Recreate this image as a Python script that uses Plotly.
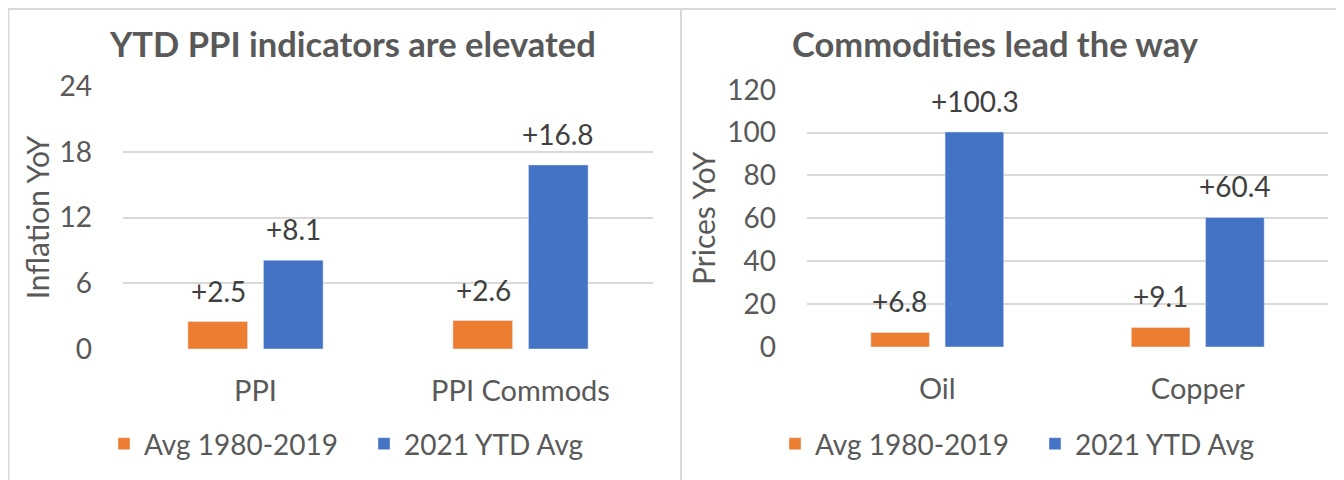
import plotly.graph_objects as go

W, H = 1344, 480

# ---- data ----
left_title = "YTD PPI indicators are elevated"
right_title = "Commodities lead the way"
left_cats = ["PPI", "PPI Commods"]
right_cats = ["Oil", "Copper"]
series_names = ["Avg 1980-2019", "2021 YTD Avg"]
left_avg = [2.5, 2.6]
left_ytd = [8.1, 16.8]
right_avg = [6.8, 9.1]
right_ytd = [100.3, 60.4]
left_ticks = [0, 6, 12, 18, 24]
right_ticks = [0, 20, 40, 60, 80, 100, 120]

ORANGE = "#ED7D31"
BLUE = "#4472C4"
GRID = "#D9D9D9"
TXT = "#595959"
LBL = "#404040"
FONT = "Lato, 'Open Sans', sans-serif"

# the page places the figure 8px in from the top-left corner
OX, OY = 8, 8

def px(x):
    return (x - OX) / W

def py(y):
    return 1 - (y - OY) / H

fig = go.Figure()

fig.add_trace(go.Bar(x=left_cats, y=left_avg, name=series_names[0], marker_color=ORANGE,
                     xaxis="x", yaxis="y", legend="legend", hoverinfo="skip"))
fig.add_trace(go.Bar(x=left_cats, y=left_ytd, name=series_names[1], marker_color=BLUE,
                     xaxis="x", yaxis="y", legend="legend", hoverinfo="skip"))
fig.add_trace(go.Bar(x=right_cats, y=right_avg, name=series_names[0], marker_color=ORANGE,
                     xaxis="x2", yaxis="y2", legend="legend2", hoverinfo="skip"))
fig.add_trace(go.Bar(x=right_cats, y=right_ytd, name=series_names[1], marker_color=BLUE,
                     xaxis="x2", yaxis="y2", legend="legend2", hoverinfo="skip"))

annotations = []

def add_labels(cats, vals, xref, yref, shift):
    for c, v in zip(cats, vals):
        annotations.append(dict(x=c, y=v, xref=xref, yref=yref, text=f"+{v:.1f}",
                                showarrow=False, xshift=shift, xanchor="center",
                                yanchor="bottom", yshift=12,
                                font=dict(family=FONT, size=28, color=LBL)))

add_labels(left_cats, left_avg, "x", "y", -37.5)
add_labels(left_cats, left_ytd, "x", "y", 37.5)
add_labels(right_cats, right_avg, "x2", "y2", -37.5)
add_labels(right_cats, right_ytd, "x2", "y2", 37.5)

annotations.append(dict(x=px(352), y=py(44), xref="paper", yref="paper", text=f"<b>{left_title}</b>",
                        showarrow=False, xanchor="center", yanchor="middle",
                        font=dict(family=FONT, size=34.5, color=TXT)))
annotations.append(dict(x=px(995), y=py(44), xref="paper", yref="paper", text=f"<b>{right_title}</b>",
                        showarrow=False, xanchor="center", yanchor="middle",
                        font=dict(family=FONT, size=34.5, color=TXT)))

tickfont = dict(family=FONT, size=28, color=TXT)
catfont = dict(family=FONT, size=29, color=TXT)
legfont = dict(family=FONT, size=28, color=TXT)

fig.update_layout(
    width=W, height=H,
    margin=dict(l=0, r=0, t=0, b=0, autoexpand=False),
    paper_bgcolor="white", plot_bgcolor="white",
    barmode="group", bargap=0.43, bargroupgap=0.21,
    font=dict(family=FONT, color=TXT),
    xaxis=dict(domain=[px(123), px(653)], anchor="y", showgrid=False, showline=False, zeroline=False,
               ticks="", tickfont=catfont, ticklabelstandoff=22, automargin=False),
    yaxis=dict(domain=[py(349), py(86)], anchor="x", range=[0, 24], tickvals=left_ticks,
               showgrid=True, gridcolor=GRID, gridwidth=1.5, showline=False, zeroline=False,
               ticks="", tickfont=tickfont, ticklabelstandoff=30, automargin=False,
               title=dict(text="Inflation YoY", font=dict(family=FONT, size=30, color=TXT), standoff=1)),
    xaxis2=dict(domain=[px(807), px(1328)], anchor="y2", showgrid=False, showline=False, zeroline=False,
                ticks="", tickfont=catfont, ticklabelstandoff=22, automargin=False),
    yaxis2=dict(domain=[py(347), py(89.7)], anchor="x2", range=[0, 120], tickvals=right_ticks,
                showgrid=True, gridcolor=GRID, gridwidth=1.5, showline=False, zeroline=False,
                ticks="", tickfont=tickfont, ticklabelstandoff=30, automargin=False,
                title=dict(text="Prices YoY", font=dict(family=FONT, size=30, color=TXT), standoff=2)),
    legend=dict(orientation="h", x=px(364), xanchor="center", y=py(444), yanchor="middle",
                font=legfont, bgcolor="rgba(0,0,0,0)", itemwidth=30,
                entrywidth=215, entrywidthmode="pixels"),
    legend2=dict(orientation="h", x=px(1035), xanchor="center", y=py(444), yanchor="middle",
                 font=legfont, bgcolor="rgba(0,0,0,0)", itemwidth=30,
                 entrywidth=215, entrywidthmode="pixels"),
    annotations=annotations,
    shapes=[
        dict(type="rect", xref="paper", yref="paper", x0=px(8.5), x1=px(681), y0=py(490), y1=py(9),
             line=dict(color=GRID, width=2), layer="below"),
        dict(type="rect", xref="paper", yref="paper", x0=px(681), x1=px(1350), y0=py(490), y1=py(9),
             line=dict(color=GRID, width=2), layer="below"),
    ],
    showlegend=True,
)

fig.write_html("out.html")
